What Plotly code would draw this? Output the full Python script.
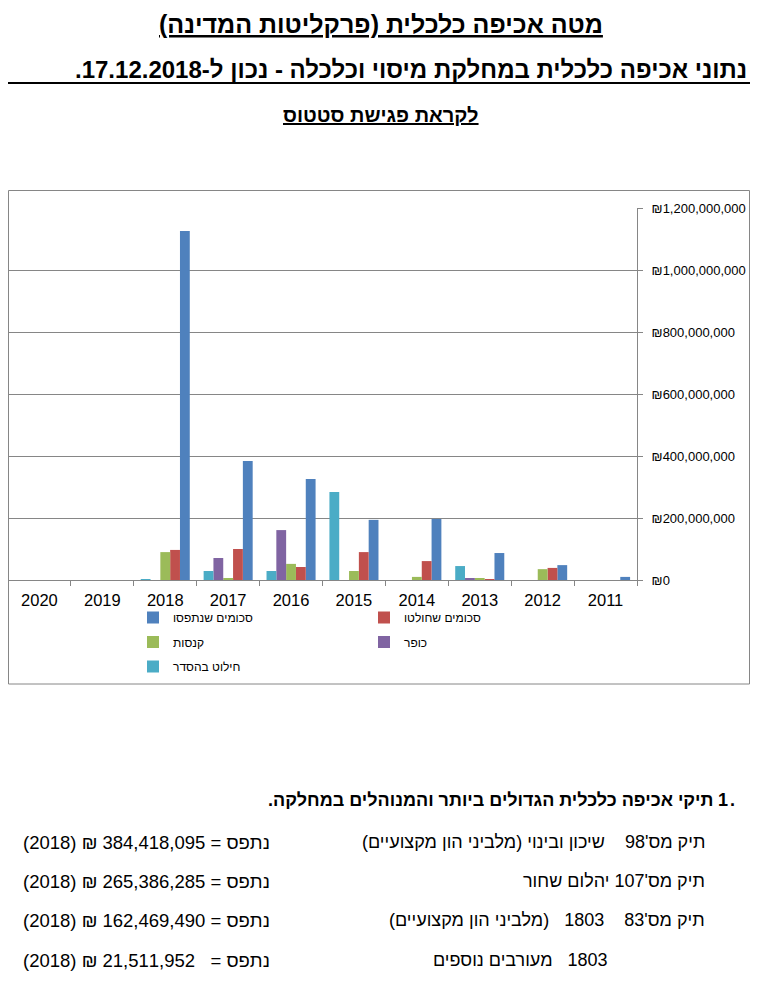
import plotly.graph_objs as go

years = ['2011', '2012', '2013', '2014', '2015', '2016', '2017', '2018', '2019', '2020']

seized = [10e6, 48e6, 87e6, 197e6, 194e6, 326e6, 384e6, 1126e6, None, None]
forfeited = [None, 39e6, 3e6, 61e6, 90e6, 42e6, 100e6, 97e6, None, None]
fines = [None, 35e6, 6.5e6, 10e6, 29e6, 52e6, 6.5e6, 90e6, None, None]
ransom = [None, None, 6.5e6, None, None, 161e6, 71e6, None, None, None]
settlements = [None, None, 45e6, None, 284e6, 29e6, 29e6, 3e6, None, None]

series_names = ['סכומים שנתפסו', 'סכומים שחולטו', 'קנסות', 'כופר', 'חילוט בהסדר']

cases = ["תיק מס'98\u00a0\u00a0\u00a0 שיכון ובינוי (מלביני הון מקצועיים)",
         "תיק מס'107 יהלום שחור",
         "תיק מס'83\u00a0\u00a0\u00a0 1803\u00a0\u00a0 (מלביני הון מקצועיים)",
         "1803\u00a0\u00a0 מעורבים נוספים"]
case_amounts = ['384,418,095', '265,386,285', '162,469,490', '\u00a0\u00a021,511,952']
case_year = '2018'

# the page body has an 8px margin, so the figure starts at page pixel (8, 8)
OFF = 8
FIG_W, FIG_H = 758 - OFF, 989 - 2 * OFF
# plot area in page pixels
L, R, T, B = 8, 637, 208, 580


def px(x):
    return (x - L) / (R - L)


def py(y):
    return (B - y) / (B - T)


def rtl(s):
    return '\u202b' + s + '\u202c'


FONT = 'Liberation Sans, Arial, sans-serif'
GRAY = '#868686'
colors = ['#4F81BD', '#C0504D', '#9BBB59', '#8064A2', '#4BACC6']
series = [seized, forfeited, fines, ransom, settlements]
legends = ['legend', 'legend2', 'legend', 'legend2', 'legend']

traces = []
for i in range(5):
    traces.append(go.Bar(
        x=years,
        y=series[i],
        name=rtl(series_names[i]),
        marker=dict(color=colors[i], line=dict(width=0)),
        legend=legends[i],
        legendgroup='g%d' % i,
    ))

annotations = [
    dict(text='<b><u>' + rtl('מטה אכיפה כלכלית (פרקליטות המדינה)') + '</u></b>',
         x=px(381), y=py(8), xanchor='center', yanchor='top', font=dict(size=25)),
    dict(text='<b>' + rtl('נתוני אכיפה כלכלית במחלקת מיסוי וכלכלה - נכון ל-17.12.2018.') + '</b>',
         x=px(749), y=py(69), xanchor='right', font=dict(size=24)),
    dict(text='<b><u>' + rtl('לקראת פגישת סטטוס') + '</u></b>',
         x=px(381), y=py(115), xanchor='center', font=dict(size=20)),
    # list number, number and dot kept apart so the bidi of the page can't swap them
    dict(text='<b>1</b>', x=px(730), y=py(800), xanchor='right', font=dict(size=18)),
    dict(text='<b>.</b>', x=px(728), y=py(800), xanchor='left', font=dict(size=18)),
    dict(text='<b>' + rtl('תיקי אכיפה כלכלית הגדולים ביותר והמנוהלים במחלקה.') + '</b>',
         x=px(715), y=py(800), xanchor='right', font=dict(size=18)),
]
row_y = [842, 881, 920, 960]
row_right = [707, 707, 707, 610]
for i in range(4):
    annotations.append(dict(text=rtl(cases[i]), x=px(row_right[i]), y=py(row_y[i]),
                            xanchor='right', font=dict(size=18)))
    annotations.append(dict(text=rtl('נתפס = ' + case_amounts[i] + ' ₪ (' + case_year + ')'),
                            x=px(272), y=py(row_y[i]), xanchor='right', font=dict(size=18.5)))

for a in annotations:
    a.update(xref='paper', yref='paper', showarrow=False)
    a.setdefault('yanchor', 'middle')
    a['font'].update(family=FONT, color='black')

shapes = [
    dict(type='rect', xref='paper', yref='paper', x0=px(8.5), x1=px(749.5), y0=py(684), y1=py(190.5),
         line=dict(color=GRAY, width=1)),
    dict(type='line', xref='paper', yref='paper', x0=px(8), x1=px(750), y0=py(83), y1=py(83),
         line=dict(color='black', width=2)),
]

layout = go.Layout(
    width=FIG_W,
    height=FIG_H,
    margin=dict(l=L - OFF, r=FIG_W - (R - OFF), t=T - OFF, b=FIG_H - (B - OFF)),
    paper_bgcolor='white',
    plot_bgcolor='white',
    font=dict(family=FONT, color='black'),
    barmode='group',
    bargap=0.22,
    bargroupgap=0,
    xaxis=dict(
        type='category',
        categoryorder='array',
        categoryarray=years,
        autorange='reversed',
        showline=True,
        linecolor=GRAY,
        ticks='outside',
        tickson='boundaries',
        ticklen=5,
        tickcolor=GRAY,
        showgrid=False,
        tickangle=0,
        ticklabelstandoff=5,
        tickfont=dict(size=16.5),
    ),
    yaxis=dict(
        side='right',
        range=[0, 1.2e9],
        dtick=2e8,
        tickprefix='₪',
        tickformat=',d',
        showline=True,
        linecolor=GRAY,
        ticks='outside',
        ticklen=5,
        tickcolor=GRAY,
        gridcolor=GRAY,
        zeroline=False,
        ticklabelstandoff=6,
        tickfont=dict(size=13),
    ),
    legend=dict(x=px(133), y=py(603), xanchor='left', yanchor='top', orientation='v',
                tracegroupgap=5.5, bgcolor='rgba(0,0,0,0)', font=dict(size=12)),
    legend2=dict(x=px(364), y=py(603), xanchor='left', yanchor='top', orientation='v',
                 tracegroupgap=5.5, bgcolor='rgba(0,0,0,0)', font=dict(size=12)),
    annotations=annotations,
    shapes=shapes,
)

fig = go.Figure(data=traces, layout=layout)
fig.write_html('out.html')
